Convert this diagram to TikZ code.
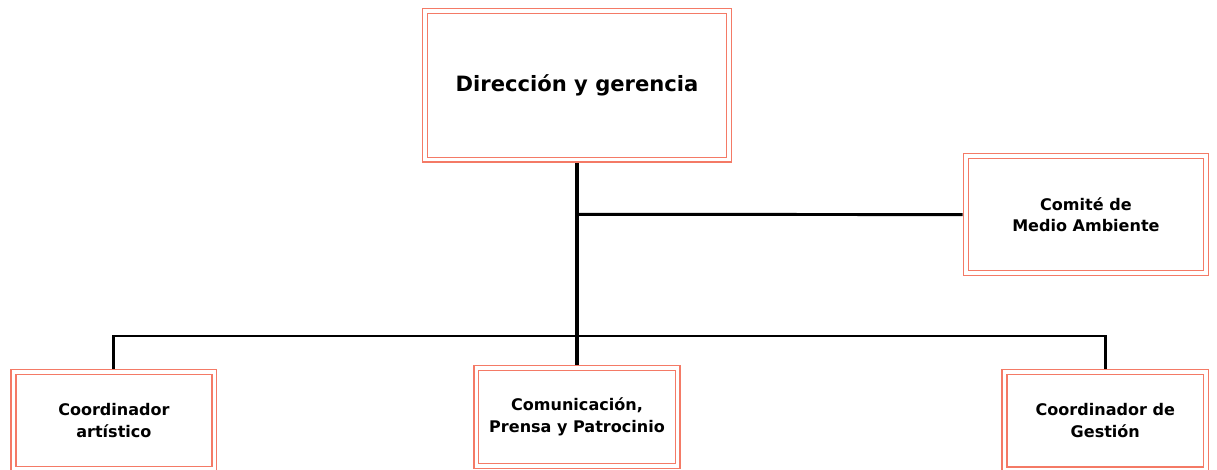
\documentclass[tikz,border=0pt]{standalone}
\usepackage{fontspec}
\setmainfont{DejaVu Sans}
\usepackage{tikz}
\definecolor{boxline}{RGB}{244,122,102}
\tikzset{
  orgbox/.style={draw=boxline,line width=0.9pt,double=white,double distance=2.6pt,
    fill=white,align=center,inner sep=0pt,font=\bfseries\fontsize{11.4}{15.5}\selectfont},
  link/.style={line width=2.1pt,black}
}

\begin{document}
\begin{tikzpicture}[x=0.025cm,y=-0.025cm]
\useasboundingbox (0,0) rectangle (1217,469);

\node[orgbox,minimum width=7.59cm,minimum height=3.71cm,font=\bfseries\fontsize{15}{18}\selectfont] (dir) at (577,85.4) {Dirección y gerencia};
\node[orgbox,minimum width=6.0cm,minimum height=2.92cm] (comite) at (1085.9,214.6) {Comité de\\Medio Ambiente};
\node[orgbox,minimum width=5.02cm,minimum height=2.44cm] (artistico) at (113.9,420.5) {Coordinador\\artístico};
\node[orgbox,minimum width=5.03cm,minimum height=2.44cm] (prensa) at (577,417) {Comunicación,\\Prensa y Patrocinio};
\node[orgbox,minimum width=5.04cm,minimum height=2.44cm] (gestion) at (1105.3,420.6) {Coordinador de\\Gestión};

\coordinate (rama) at (577,214.3);
\coordinate (bus) at (577,336);

\draw[link,line width=2.5pt,shorten <=1.8pt,shorten >=1.8pt] (dir.south) to (prensa.north);
\draw[link,shorten >=1.8pt] (rama) to (comite.west);
\draw[link,shorten <=1.8pt,shorten >=1.8pt] (artistico.north) |- (bus) -| (gestion.north);

\end{tikzpicture}
\end{document}
